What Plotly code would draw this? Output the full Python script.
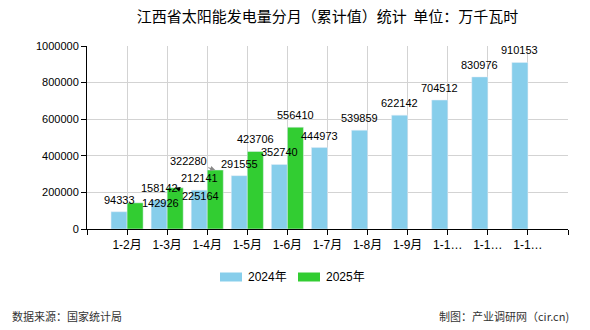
import plotly.graph_objects as go

categories = ["1-2月", "1-3月", "1-4月", "1-5月", "1-6月", "1-7月", "1-8月", "1-9月", "1-10月", "1-11月", "1-12月"]
tick_labels = ["1-2月", "1-3月", "1-4月", "1-5月", "1-6月", "1-7月", "1-8月", "1-9月", "1-1…", "1-1…", "1-1…"]
values_2024 = [94333, 158142, 212141, 291555, 352740, 444973, 539859, 622142, 704512, 830976, 910153]
values_2025 = [142926, 225164, 322280, 423706, 556410]
# labels that the source chart moved away from their bars: index -> (dx px, dy px, arrow?, arrow colour)
moved_2025 = {0: (25, 0, False, None), 1: (25, 8, True, "#000000"), 2: (-27, -9, True, "#888888")}

BLUE = "#87CEEB"
GREEN = "#32CD32"
LBL_FONT = dict(family="Liberation Sans, Arial, sans-serif", size=11, color="#000000")

fig = go.Figure()
fig.add_trace(go.Bar(x=categories, y=values_2024, name="2024年", marker_color=BLUE, showlegend=False))
fig.add_trace(go.Bar(x=categories[:len(values_2025)], y=values_2025, name="2025年", marker_color=GREEN,
                     showlegend=False))

# value labels as annotations so they sit on top of every bar
for i, v in enumerate(values_2024):
    fig.add_annotation(x=categories[i], y=v, xref="x", yref="y", xshift=-8, yshift=4,
                       yanchor="bottom", text=str(v), showarrow=False, font=LBL_FONT)
for i, v in enumerate(values_2025):
    if i in moved_2025:
        dx, dy, arrow, col = moved_2025[i]
        if arrow:
            fig.add_annotation(x=categories[i], y=v, xref="x", yref="y", xshift=8,
                               text=str(v), showarrow=True, ax=dx, ay=dy,
                               arrowhead=2, arrowsize=1, arrowwidth=1, arrowcolor=col,
                               font=LBL_FONT)
        else:
            fig.add_annotation(x=categories[i], y=v, xref="x", yref="y", xshift=8 + dx,
                               yshift=-dy, text=str(v), showarrow=False, font=LBL_FONT)
    else:
        fig.add_annotation(x=categories[i], y=v, xref="x", yref="y", xshift=8, yshift=4,
                           yanchor="bottom", text=str(v), showarrow=False, font=LBL_FONT)

# legend (drawn manually to mimic the wide, flat swatches)
W = 481.0
H = 183.0
def px(x):
    return (x - 87) / W
def py(y):
    return (229 - y) / H

fig.add_shape(type="rect", xref="paper", yref="paper", x0=px(220), x1=px(242), y0=py(281.5), y1=py(272.5),
              fillcolor=BLUE, line_width=0)
fig.add_shape(type="rect", xref="paper", yref="paper", x0=px(298), x1=px(320), y0=py(281.5), y1=py(272.5),
              fillcolor=GREEN, line_width=0)
LEG_FONT = dict(family="Liberation Sans, Noto Sans CJK SC, sans-serif", size=12, color="#000000")
fig.add_annotation(xref="paper", yref="paper", x=px(246), y=py(277), xanchor="left", yanchor="middle",
                   text="2024年", showarrow=False, font=LEG_FONT)
fig.add_annotation(xref="paper", yref="paper", x=px(324), y=py(277), xanchor="left", yanchor="middle",
                   text="2025年", showarrow=False, font=LEG_FONT)

FOOT_FONT = dict(family="Noto Sans CJK SC, sans-serif", size=11, color="#333333")
fig.add_annotation(xref="paper", yref="paper", x=px(10), y=py(316), xanchor="left", yanchor="middle",
                   text="数据来源：国家统计局", showarrow=False, font=FOOT_FONT)
fig.add_annotation(xref="paper", yref="paper", x=px(571), y=py(316), xanchor="right", yanchor="middle",
                   text="制图：产业调研网（cir.cn)", showarrow=False, font=FOOT_FONT)

fig.update_layout(
    width=590, height=330,
    margin=dict(l=87, r=22, t=46, b=101, pad=0),
    paper_bgcolor="#ffffff", plot_bgcolor="#ffffff",
    barmode="group", bargap=0.2, bargroupgap=0,
    title=dict(text="江西省太阳能发电量分月（累计值）统计  单位：万千瓦时", x=0.5, xref="paper", xanchor="center",
               y=1 - 17 / 330, yref="container", yanchor="middle",
               font=dict(family="Noto Sans CJK SC, sans-serif", size=15, color="#000000")),
    xaxis=dict(type="category", range=[-1, len(categories)],
               tickmode="array", tickvals=list(range(-1, len(categories) + 1)),
               ticktext=[""] + tick_labels + [""],
               showgrid=True, gridcolor="#d3d3d3", gridwidth=1,
               showline=True, linecolor="#000000", linewidth=1,
               ticks="outside", ticklen=5, tickcolor="#000000",
               tickfont=dict(family="Liberation Sans, Noto Sans CJK SC, sans-serif", size=12, color="#000000"),
               zeroline=False, fixedrange=True),
    yaxis=dict(range=[0, 1000000], tickmode="array",
               tickvals=[0, 200000, 400000, 600000, 800000, 1000000],
               ticktext=["0", "200000", "400000", "600000", "800000", "1000000"],
               showgrid=True, gridcolor="#d3d3d3", gridwidth=1,
               showline=True, linecolor="#000000", linewidth=1,
               ticks="outside", ticklen=5, tickcolor="#000000",
               tickfont=dict(family="Liberation Sans, Arial, sans-serif", size=11, color="#000000"),
               zeroline=False, fixedrange=True),
)

fig.write_html("out.html")
